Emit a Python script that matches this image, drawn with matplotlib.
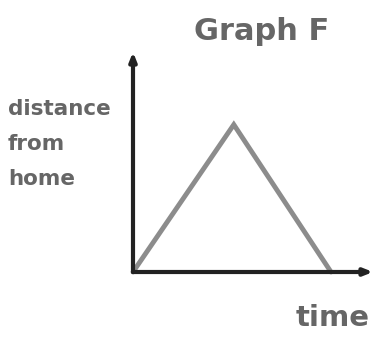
import matplotlib
matplotlib.use("Agg")
import matplotlib.pyplot as plt

# sketch data: distance from home over time (arbitrary units)
time = [0, 4.2, 8.25]
distance = [0, 6.7, 0]

title = "Graph F"
ylabel = "distance\nfrom\nhome"
xlabel = "time"

fig = plt.figure(figsize=(3.73, 3.39), dpi=100)
# axes area: origin at ~(133, 272) px, top at y~52, right edge at x~373
ax = fig.add_axes([133 / 373, (339 - 272) / 339, (373 - 133) / 373, (272 - 52) / 339])
ax.set_xlim(0, 10)
ax.set_ylim(0, 10)
ax.axis("off")

# the travel line
ax.plot(time, distance, color="#8c8c8c", lw=3.5, solid_capstyle="round",
        solid_joinstyle="miter", zorder=3, clip_on=False)

# hand-drawn axes with arrowheads
arrow = dict(arrowstyle="-|>,head_length=0.5,head_width=0.2", color="#222222", lw=3,
             shrinkA=0, shrinkB=0)
ax.annotate("", xy=(0, 1), xytext=(0, 0), xycoords="axes fraction", arrowprops=arrow)
ax.annotate("", xy=(1, 0), xytext=(0, 0), xycoords="axes fraction", arrowprops=arrow)

txt = dict(color="#666666", fontweight="bold", family="DejaVu Sans")
fig.text(262 / 373, 1 - 32 / 339, title, ha="center", va="center", fontsize=22, **txt)
fig.text(8 / 373, 1 - 99 / 339, ylabel, ha="left", va="top", fontsize=15.5,
         linespacing=1.95, **txt)
fig.text(333 / 373, 1 - 318 / 339, xlabel, ha="center", va="center", fontsize=21, **txt)

fig.savefig("out.png", dpi=100)
